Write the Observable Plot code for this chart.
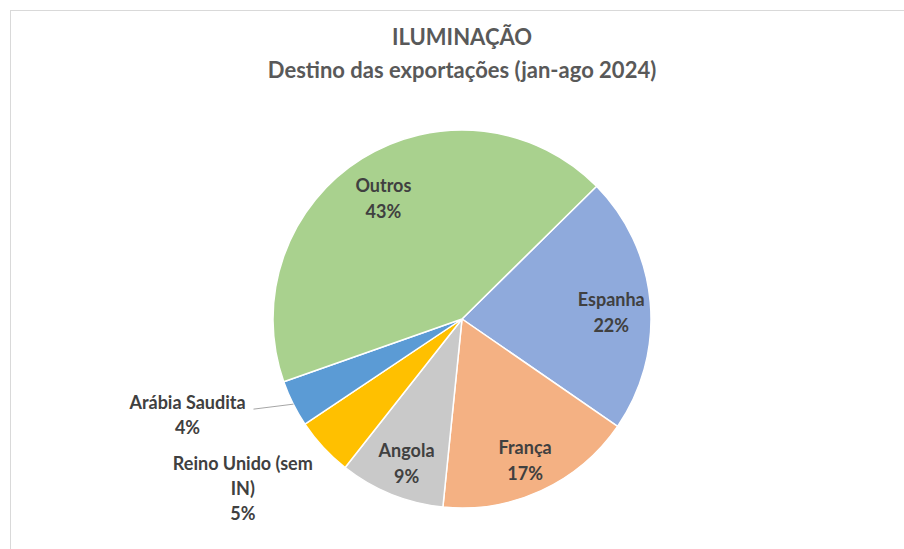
<!DOCTYPE html>
<html><head><meta charset="utf-8">
<script src="https://cdn.jsdelivr.net/npm/d3@7"></script>
<script src="https://cdn.jsdelivr.net/npm/@observablehq/plot@0.6"></script>
<style>
body{margin:0;background:#fff;}
#wrap{position:relative;width:904px;height:549px;overflow:hidden;background:#fff;font-family:Lato,"Open Sans",sans-serif;}
#frame{position:absolute;left:10px;top:10px;width:1200px;height:1200px;border:1px solid #d9d9d9;box-sizing:border-box;}
#title{position:absolute;top:20px;left:20px;width:884px;text-align:center;color:#595959;font-weight:bold;font-size:22px;line-height:33px;}
#chart{position:absolute;left:0;top:0;}
</style></head>
<body><div id="wrap"><div id="frame"></div>
<div id="title">ILUMINAÇÃO<br>Destino das exportações (jan-ago 2024)</div>
<div id="chart"></div></div>
<script>
const categories = ["Espanha", "França", "Angola", "Reino Unido (sem\nIN)", "Arábia Saudita", "Outros"];
const values = [22, 17, 9, 5, 4, 43];
const colors = ["#8FAADC", "#F4B183", "#C9C9C9", "#FFC000", "#5B9BD5", "#A9D18E"];
const outside = [false, false, false, true, true, false];

const startDeg = 45.4;
const pie = d3.pie().sort(null).value(d => d.value)
  .startAngle(startDeg * Math.PI / 180).endAngle((startDeg + 360) * Math.PI / 180);
const data = categories.map((c, i) => ({name: c, value: values[i], color: colors[i], outside: outside[i]}));
const arcs = pie(data);
const total = d3.sum(values);
const labelR = 0.79;
const lab = arcs.map(a => {
  const m = (a.startAngle + a.endAngle) / 2;
  const r = a.data.outside ? 1 : labelR;
  return {
    name: a.data.name,
    text: a.data.name + "\n" + Math.round(a.data.value / total * 100) + "%",
    outside: a.data.outside,
    x: r * Math.sin(m), y: r * Math.cos(m),
    ex: Math.sin(m), ey: Math.cos(m)
  };
});
const inner = lab.filter(d => !d.outside);
const arabia = lab.filter(d => d.name === "Arábia Saudita");
const reino = lab.filter(d => d.name.startsWith("Reino"));

const R = 189, cx = 462, cy = 319;
const pieMark = (index, scales) => {
  const sx = scales.x, sy = scales.y;
  const x0 = sx(0), y0 = sy(0);
  const rad = Math.abs(sx(1) - sx(0));
  const g = d3.create("svg:g").attr("transform", `translate(${x0},${y0})`);
  const arc = d3.arc().innerRadius(0).outerRadius(rad);
  g.selectAll("path").data(arcs).join("path")
    .attr("d", arc).attr("fill", d => d.data.color)
    .attr("stroke", "#fff").attr("stroke-width", 1.5).attr("stroke-linejoin", "round");
  return g.node();
};

const font = {fontSize: 18, fontWeight: "bold", fill: "#404040", lineHeight: 1.4, fontFamily: "Lato, 'Open Sans', sans-serif"};
const chart = Plot.plot({
  width: 904, height: 549,
  margin: 0,
  x: {domain: [-1, 1], range: [cx - R, cx + R], axis: null},
  y: {domain: [-1, 1], range: [cy + R, cy - R], axis: null},
  style: {background: "transparent", overflow: "visible"},
  marks: [
    pieMark,
    Plot.link(arabia, {x1: "ex", y1: "ey", x2: d => d.ex - 40 / R, y2: d => d.ey - 5 / R, stroke: "#a6a6a6", strokeWidth: 1}),
    Plot.text(inner, {x: "x", y: "y", text: "text", dy: 4, ...font, lineHeight: 1.45}),
    Plot.text(arabia, {x: "x", y: "y", text: "text", dx: -106, dy: 9, ...font}),
    Plot.text(reino, {x: "x", y: "y", text: "text", dx: -81, dy: 39, ...font})
  ]
});
document.getElementById("chart").appendChild(chart);
</script></body></html>
